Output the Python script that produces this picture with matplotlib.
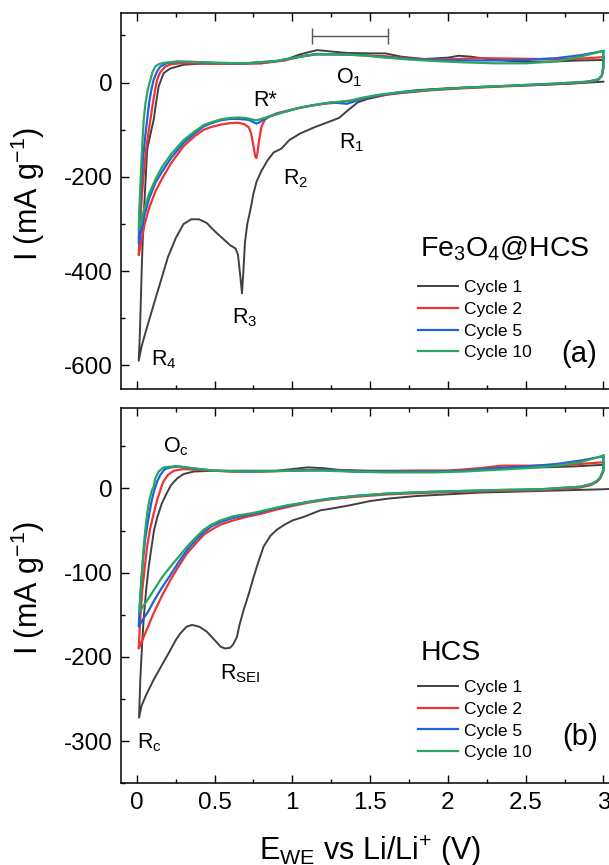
import matplotlib
matplotlib.use("Agg")
import matplotlib.pyplot as plt
from matplotlib.ticker import MultipleLocator

plt.rcParams["font.family"] = ["Liberation Sans", "DejaVu Sans"]
plt.rcParams["mathtext.default"] = "regular"
plt.rcParams["axes.unicode_minus"] = False

# ---- (a) Fe3O4@HCS : potential (V) and current (mA/g), in sweep order ----
a_c1_v = [3.0, 2.8, 2.6, 2.4, 2.2, 2.0, 1.8, 1.65, 1.55, 1.48, 1.42, 1.36, 1.30, 1.22, 1.14,
          1.05, 0.98, 0.93, 0.88, 0.84, 0.80, 0.77, 0.75, 0.73, 0.71, 0.695, 0.685, 0.676,
          0.665, 0.65, 0.635, 0.60, 0.55, 0.50, 0.45, 0.40, 0.35, 0.30, 0.25, 0.20, 0.15,
          0.10, 0.06, 0.03, 0.012,
          0.018, 0.0225, 0.033, 0.044, 0.066, 0.087, 0.108, 0.125, 0.14, 0.172, 0.215, 0.30,
          0.4, 0.6, 0.8, 0.95, 1.05, 1.16, 1.25, 1.35, 1.5, 1.6, 1.7, 1.85, 2.0, 2.07, 2.15,
          2.3, 2.5, 2.7, 2.85, 3.0]
a_c1_i = [2, -2, -5, -7, -9, -12, -16, -22, -30, -35, -42, -58, -75, -85, -95,
          -108, -122, -140, -148, -165, -188, -210, -235, -270, -300, -340, -400, -447,
          -410, -365, -352, -345, -330, -315, -298, -290, -290, -300, -330, -370, -425,
          -480, -525, -560, -590,
          -545, -497, -376, -284, -143, -110, -79, -40, -8, 20, 30, 38,
          40, 40, 41, 48, 60, 69, 66, 63, 62, 62, 55, 50, 53, 57, 55,
          48, 44, 45, 47, 48]

a_c2_v = [3.0, 3.0, 2.99, 2.97, 2.93, 2.86, 2.7, 2.5, 2.3, 2.1, 1.9, 1.7, 1.55, 1.45, 1.38,
          1.3, 1.2, 1.1, 1.0, 0.9, 0.85, 0.82, 0.80, 0.785, 0.775, 0.768, 0.76, 0.75, 0.735,
          0.72, 0.69, 0.65, 0.6, 0.54, 0.48, 0.43, 0.37, 0.3, 0.22, 0.16, 0.12, 0.08, 0.05,
          0.03, 0.012,
          0.018, 0.03, 0.045, 0.06, 0.075, 0.087, 0.1, 0.115, 0.13, 0.15, 0.183, 0.22, 0.28,
          0.4, 0.6, 0.8, 0.95, 1.05, 1.15, 1.3, 1.45, 1.6, 1.75, 1.9, 2.05, 2.2, 2.4, 2.6,
          2.8, 2.9, 3.0]
a_c2_i = [54, 30, 15, 7, 3, 0, -3, -6, -9, -12, -16, -22, -28, -33, -38,
          -42, -45, -50, -57, -65, -72, -80, -95, -125, -150, -160, -155, -135, -108,
          -95, -88, -85, -86, -89, -94, -100, -114, -135, -171, -205, -230, -265, -300,
          -335, -366,
          -320, -250, -190, -140, -105, -79, -50, -20, 6, 22, 34, 39, 41,
          41, 40, 41, 47, 55, 60, 60, 58, 56, 51, 49, 50, 52, 51, 50,
          50, 52, 54]

a_c5_v = [3.0, 3.0, 2.99, 2.97, 2.9, 2.7, 2.5, 2.3, 2.1, 1.9, 1.7, 1.55, 1.45, 1.38, 1.35,
          1.32, 1.25, 1.15, 1.05, 0.95, 0.87, 0.82, 0.79, 0.77, 0.75, 0.72, 0.65, 0.6, 0.54,
          0.48, 0.43, 0.37, 0.3, 0.22, 0.16, 0.12, 0.08, 0.05, 0.03, 0.012,
          0.015, 0.025, 0.04, 0.055, 0.066, 0.08, 0.095, 0.108, 0.13, 0.151, 0.19, 0.25,
          0.35, 0.5, 0.7, 0.9, 1.05, 1.15, 1.3, 1.45, 1.6, 1.75, 1.9, 2.1, 2.3, 2.5, 2.7,
          2.85, 3.0]
a_c5_i = [67, 35, 15, 7, 2, -2, -5, -8, -11, -15, -21, -27, -34, -42, -45,
          -44, -42, -47, -53, -62, -70, -77, -84, -87, -84, -79, -77, -77, -80,
          -86, -93, -108, -128, -160, -190, -212, -245, -280, -310, -341,
          -300, -230, -160, -110, -79, -40, -12, 6, 24, 34, 41, 44,
          44, 42, 41, 46, 55, 60, 60, 58, 54, 50, 48, 47, 47, 48, 52,
          58, 67]

a_c10_v = [3.0, 3.0, 2.99, 2.97, 2.9, 2.7, 2.5, 2.3, 2.1, 1.9, 1.7, 1.55, 1.45, 1.38, 1.32,
           1.25, 1.15, 1.05, 0.95, 0.87, 0.8, 0.77, 0.74, 0.7, 0.65, 0.6, 0.54, 0.48, 0.43,
           0.37, 0.3, 0.22, 0.16, 0.12, 0.08, 0.05, 0.03, 0.012,
           0.016, 0.025, 0.035, 0.044, 0.055, 0.07, 0.087, 0.1, 0.119, 0.14, 0.172, 0.26,
           0.35, 0.5, 0.7, 0.9, 1.05, 1.15, 1.3, 1.45, 1.6, 1.75, 1.9, 2.1, 2.3, 2.5, 2.7,
           2.85, 3.0]
a_c10_i = [67, 35, 15, 7, 2, -2, -5, -8, -11, -15, -20, -26, -32, -38, -40,
           -42, -47, -53, -62, -70, -77, -80, -78, -75, -74, -75, -78, -84, -90,
           -104, -122, -152, -180, -205, -235, -265, -290, -313,
           -270, -200, -130, -79, -45, -15, 6, 22, 34, 39, 42, 45,
           44, 42, 41, 46, 55, 61, 60, 58, 53, 49, 46, 43, 41, 41, 45,
           55, 67]

# ---- (b) HCS ----
b_c1_v = [3.1, 3.0, 2.8, 2.6, 2.4, 2.2, 2.0, 1.8, 1.62, 1.5, 1.37, 1.25, 1.18, 1.07, 1.0,
          0.95, 0.90, 0.86, 0.815, 0.78, 0.751, 0.72, 0.687, 0.66, 0.644, 0.62, 0.6, 0.569,
          0.54, 0.5, 0.45, 0.4, 0.355, 0.32, 0.28, 0.25, 0.215, 0.16, 0.108, 0.06, 0.03,
          0.014,
          0.022, 0.035, 0.046, 0.06, 0.075, 0.09, 0.11, 0.13, 0.16, 0.194, 0.22, 0.26, 0.3,
          0.365, 0.5, 0.7, 0.9, 1.0, 1.1, 1.2, 1.3, 1.5, 1.8, 2.0, 2.2, 2.4, 2.6, 2.8, 3.0]
b_c1_i = [0, -1, -2, -3, -4, -5, -7, -9, -12, -15, -20, -24, -26, -34, -38,
          -43, -49, -56, -69, -88, -105, -125, -144, -162, -176, -185, -189, -190,
          -188, -180, -170, -164, -162, -164, -172, -180, -192, -210, -227, -245, -258,
          -272,
          -227, -180, -150, -120, -95, -75, -50, -35, -18, -5, 4, 12, 17,
          20, 21, 21, 21, 23, 25, 24, 22, 21, 21, 21, 22, 24, 25, 26, 28]

b_c2_v = [3.0, 3.0, 2.98, 2.96, 2.92, 2.85, 2.6, 2.3, 2.1, 1.9, 1.62, 1.4, 1.24, 1.1, 0.995,
          0.9, 0.8, 0.7, 0.62, 0.537, 0.48, 0.43, 0.38, 0.323, 0.27, 0.215, 0.16, 0.108,
          0.07, 0.04, 0.012,
          0.02, 0.035, 0.05, 0.066, 0.085, 0.108, 0.13, 0.151, 0.17, 0.2, 0.237, 0.3, 0.4,
          0.6, 0.8, 1.0, 1.1, 1.2, 1.3, 1.5, 1.8, 2.0, 2.2, 2.35, 2.5, 2.7, 2.85, 3.0]
b_c2_i = [31, 20, 12, 8, 4, 1, -2, -3, -4, -5, -7, -10, -13, -17, -21,
          -25, -30, -34, -38, -43, -49, -55, -65, -77, -92, -109, -128, -148,
          -165, -178, -190,
          -160, -120, -95, -69, -48, -30, -14, -2, 8, 16, 21, 23, 22,
          20, 20, 21, 22, 22, 21, 20, 21, 21, 24, 27, 27, 27, 29, 31]

b_c5_v = [3.0, 3.0, 2.98, 2.96, 2.92, 2.85, 2.6, 2.3, 2.1, 1.9, 1.62, 1.4, 1.24, 1.1, 0.995,
          0.9, 0.8, 0.7, 0.62, 0.537, 0.48, 0.43, 0.38, 0.323, 0.27, 0.215, 0.16, 0.108,
          0.07, 0.04, 0.012,
          0.018, 0.03, 0.042, 0.054, 0.07, 0.08, 0.095, 0.108, 0.13, 0.151, 0.18, 0.22,
          0.27, 0.35, 0.5, 0.7, 1.0, 1.2, 1.4, 1.6, 1.9, 2.1, 2.3, 2.5, 2.7, 2.85, 3.0]
b_c5_i = [38, 22, 13, 9, 5, 2, -1, -2, -3, -4, -6, -9, -12, -16, -20,
          -23, -28, -32, -35, -40, -45, -52, -61, -73, -87, -103, -118, -134,
          -147, -155, -164,
          -140, -105, -80, -60, -40, -30, -15, -5, 8, 16, 23, 25,
          26, 24, 21, 20, 21, 22, 20, 20, 20, 21, 24, 26, 29, 33, 38]

b_c10_v = [3.0, 3.0, 2.98, 2.96, 2.92, 2.85, 2.6, 2.3, 2.1, 1.9, 1.62, 1.4, 1.18, 0.966,
           0.87, 0.751, 0.62, 0.537, 0.48, 0.43, 0.38, 0.323, 0.27, 0.215, 0.16, 0.108,
           0.07, 0.04, 0.016,
           0.022, 0.033, 0.044, 0.055, 0.066, 0.08, 0.095, 0.108, 0.119, 0.14, 0.172, 0.25,
           0.36, 0.5, 0.7, 1.0, 1.2, 1.4, 1.6, 1.9, 2.1, 2.3, 2.5, 2.7, 2.85, 3.0]
b_c10_i = [39, 22, 13, 9, 5, 2, -1, -2, -3, -4, -6, -9, -14, -20,
           -24, -29, -33, -38, -43, -49, -58, -69, -81, -93, -106, -121,
           -132, -140, -147,
           -130, -100, -69, -48, -30, -14, -3, 2, 12, 20, 25, 26.5,
           24, 21, 20, 21, 21, 20, 19, 19, 20, 22, 24, 27, 31, 39]

labels = ["Cycle 1", "Cycle 2", "Cycle 5", "Cycle 10"]
colors = ["#404040", "#ee3333", "#1f62dc", "#2ba65e"]

fig = plt.figure(figsize=(6.09, 8.65), dpi=100)
ax1 = fig.add_axes([0.1992, 0.5503, 0.8171, 0.4343])
ax2 = fig.add_axes([0.1992, 0.0944, 0.8171, 0.4335])

top_curves = [(a_c1_v, a_c1_i), (a_c2_v, a_c2_i), (a_c5_v, a_c5_i), (a_c10_v, a_c10_i)]
bot_curves = [(b_c1_v, b_c1_i), (b_c2_v, b_c2_i), (b_c5_v, b_c5_i), (b_c10_v, b_c10_i)]

for ax, curves in [(ax1, top_curves), (ax2, bot_curves)]:
    for (v, i), c, lab in zip(curves, colors, labels):
        lw = 1.4 if lab == "Cycle 1" else 1.6
        ax.plot(v, i, color=c, lw=lw, label=lab, solid_joinstyle="round")
    ax.set_xlim(-0.1, 3.1)
    ax.xaxis.set_major_locator(MultipleLocator(0.5))
    ax.xaxis.set_minor_locator(MultipleLocator(0.25))
    ax.tick_params(which="both", direction="in", top=True, right=True, width=1.0)
    ax.tick_params(which="major", length=5.5, labelsize=17.5, pad=6)
    ax.tick_params(which="minor", length=3)
    for s in ax.spines.values():
        s.set_linewidth(1.1)
    leg = ax.legend(loc="upper left", frameon=False, fontsize=12.5, handlelength=2.3,
                    handletextpad=0.35, labelspacing=0.38, borderpad=0, borderaxespad=0)
    ax.set_ylabel("I (mA g$^{-1}$)", fontsize=22)
    ax.yaxis.set_label_coords(-0.15, 0.52)

ax1.get_legend().set_bbox_to_anchor((0.596, 0.29), transform=ax1.transAxes)
ax2.get_legend().set_bbox_to_anchor((0.596, 0.276), transform=ax2.transAxes)

ax1.set_ylim(-650, 147)
ax1.yaxis.set_major_locator(MultipleLocator(200))
ax1.yaxis.set_minor_locator(MultipleLocator(100))
ax1.tick_params(labelbottom=False)

ax2.set_ylim(-350, 95)
ax2.yaxis.set_major_locator(MultipleLocator(100))
ax2.yaxis.set_minor_locator(MultipleLocator(50))
ax2.xaxis.set_major_formatter(plt.FuncFormatter(lambda x, p: f"{x:g}"))
ax2.set_xlabel("E$_{WE}$ vs Li/Li$^{+}$ (V)", fontsize=22)
ax2.xaxis.set_label_coords(0.5, -0.133)

# scale bar on top panel
ax1.errorbar([1.371], [98], xerr=[0.2444], color="#555555", lw=1.0, capsize=6,
             capthick=1.0)

# peak labels (a)
ax1.text(1.28, -1, "O$_1$", fontsize=15.5)
ax1.text(0.747, -50, "R*", fontsize=15.5)
ax1.text(1.298, -139, "R$_1$", fontsize=15.5)
ax1.text(0.94, -217, "R$_2$", fontsize=15.5)
ax1.text(0.612, -511, "R$_3$", fontsize=15.5)
ax1.text(0.091, -599, "R$_4$", fontsize=15.5)
ax1.text(1.819, -369, "Fe$_3$O$_4$@HCS", fontsize=20.5)
ax1.text(2.73, -593, "(a)", fontsize=21)

# peak labels (b)
ax2.text(0.171, 43, "O$_c$", fontsize=15.5)
ax2.text(0.533, -227, "R$_{SEI}$", fontsize=15.5)
ax2.text(0.001, -308, "R$_c$", fontsize=15.5)
ax2.text(1.823, -204, "HCS", fontsize=20.5)
ax2.text(2.734, -305, "(b)", fontsize=21)

fig.savefig("out.png", dpi=100)
